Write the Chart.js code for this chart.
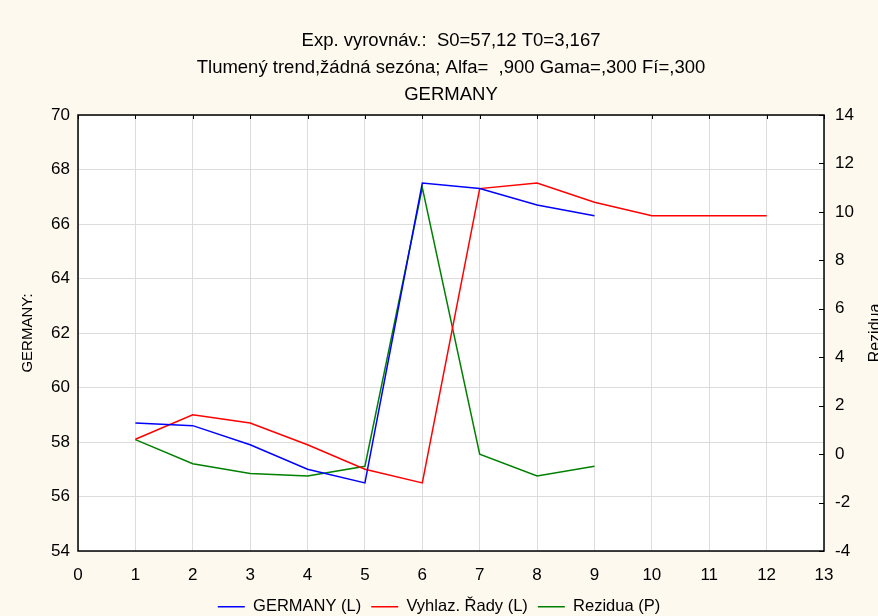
<!DOCTYPE html>
<html lang="cs">
<head>
  <meta charset="UTF-8" />
  <title>GERMANY – exponenciální vyrovnávání</title>
  <script src="https://cdn.jsdelivr.net/npm/chart.js"></script>
  <style>
    html, body {
      margin: 0;
      padding: 0;
      background: #fdf9ee;
    }
    #wrap {
      width: 878px;
      height: 616px;
    }
  </style>
</head>
<body>
  <div id="wrap"><canvas id="graf"></canvas></div>

  <script>
    // titulky grafu
    const titulek = [
      'Exp. vyrovnáv.:  S0=57,12 T0=3,167',
      'Tlumený trend,žádná sezóna; Alfa=  ,900 Gama=,300 Fí=,300',
      'GERMANY'
    ];

    // období (osa x)
    const obdobi = [1, 2, 3, 4, 5, 6, 7, 8, 9, 10, 11, 12];

    // hodnoty
    const germany = [58.7, 58.6, 57.9, 57.0, 56.5, 67.5, 67.3, 66.7, 66.3];
    const vyhlazeni = [58.1, 59.0, 58.7, 57.9, 57.0, 56.5, 67.3, 67.5, 66.8, 66.3, 66.3, 66.3];
    const rezidua = [0.6, -0.4, -0.8, -0.9, -0.5, 11.0, 0.0, -0.9, -0.5];

    const pisma = "'Liberation Sans', Arial, sans-serif";
    const mrizka = '#dcdcdc';

    function body(hodnoty) {
      return hodnoty.map((v, i) => ({ x: obdobi[i], y: v }));
    }

    // pozadí + bílá plocha grafu
    const pozadi = {
      id: 'pozadi',
      beforeDraw(chart) {
        const { ctx, chartArea: a } = chart;
        ctx.save();
        ctx.fillStyle = '#fdf9ee';
        ctx.fillRect(0, 0, chart.width, chart.height);
        ctx.fillStyle = '#ffffff';
        ctx.fillRect(a.left, a.top, a.right - a.left, a.bottom - a.top);
        ctx.restore();
      }
    };

    // rámeček, krátké značky a název pravé osy
    const ramecek = {
      id: 'ramecek',
      afterDraw(chart) {
        const { ctx, chartArea: a, scales } = chart;
        ctx.save();
        ctx.strokeStyle = '#000';
        ctx.lineWidth = 1.5;
        ctx.strokeRect(a.left, a.top, a.right - a.left, a.bottom - a.top);

        ctx.lineWidth = 1;
        ctx.beginPath();
        scales.x.ticks.forEach(t => {
          const px = Math.round(scales.x.getPixelForValue(t.value)) + 0.5;
          ctx.moveTo(px, a.top);
          ctx.lineTo(px, a.top + 4);
        });
        scales.y2.ticks.forEach(t => {
          const py = Math.round(scales.y2.getPixelForValue(t.value)) + 0.5;
          ctx.moveTo(a.right, py);
          ctx.lineTo(a.right - 5, py);
        });
        ctx.stroke();

        ctx.fillStyle = '#000';
        ctx.font = '16px ' + pisma;
        ctx.textAlign = 'center';
        ctx.textBaseline = 'alphabetic';
        ctx.translate(880, (a.top + a.bottom) / 2);
        ctx.rotate(-Math.PI / 2);
        ctx.fillText('Rezidua', 0, 0);
        ctx.restore();
      }
    };

    new Chart(document.getElementById('graf'), {
      type: 'line',
      data: {
        datasets: [
          {
            label: 'GERMANY (L)',
            data: body(germany),
            borderColor: '#0000ff',
            backgroundColor: '#0000ff',
            borderWidth: 1.5,
            pointRadius: 0,
            yAxisID: 'y'
          },
          {
            label: 'Vyhlaz. Řady (L)',
            data: body(vyhlazeni),
            borderColor: '#ff0000',
            backgroundColor: '#ff0000',
            borderWidth: 1.5,
            pointRadius: 0,
            yAxisID: 'y'
          },
          {
            label: 'Rezidua (P)',
            data: body(rezidua),
            borderColor: '#008000',
            backgroundColor: '#008000',
            borderWidth: 1.5,
            pointRadius: 0,
            yAxisID: 'y2'
          }
        ]
      },
      options: {
        responsive: true,
        maintainAspectRatio: false,
        animation: false,
        layout: { padding: { left: 0, right: 0, top: 0, bottom: -9 } },
        plugins: {
          title: {
            display: true,
            text: titulek,
            fullSize: false,
            color: '#000',
            font: { family: pisma, size: 18.5, weight: 'normal', lineHeight: 27 / 18.5 },
            padding: { top: 27, bottom: 7 }
          },
          legend: {
            position: 'bottom',
            labels: {
              color: '#000',
              font: { family: pisma, size: 16.5 },
              usePointStyle: true,
              pointStyle: 'line',
              pointStyleWidth: 27,
              padding: 10
            }
          },
          tooltip: { enabled: false }
        },
        scales: {
          x: {
            type: 'linear',
            min: 0,
            max: 13,
            border: { display: false },
            grid: { color: mrizka, drawTicks: false },
            ticks: {
              stepSize: 1,
              color: '#000',
              padding: 14,
              font: { family: pisma, size: 17 }
            },
            afterFit(s) { s.height = 37.5; }
          },
          y: {
            position: 'left',
            min: 54,
            max: 70,
            border: { display: false },
            grid: { color: mrizka, drawTicks: false },
            ticks: {
              stepSize: 2,
              color: '#000',
              padding: 8,
              font: { family: pisma, size: 17 }
            },
            title: {
              display: true,
              text: 'GERMANY:',
              color: '#000',
              font: { family: pisma, size: 15 },
              padding: { top: 19, bottom: 0 }
            },
            afterFit(s) { s.width = 78; }
          },
          y2: {
            position: 'right',
            min: -4,
            max: 14,
            border: { display: false },
            grid: { display: false, drawTicks: false },
            ticks: {
              stepSize: 2,
              color: '#000',
              padding: 11,
              font: { family: pisma, size: 17 }
            },
            afterFit(s) { s.width = 54; }
          }
        }
      },
      plugins: [pozadi, ramecek]
    });
  </script>
</body>
</html>
